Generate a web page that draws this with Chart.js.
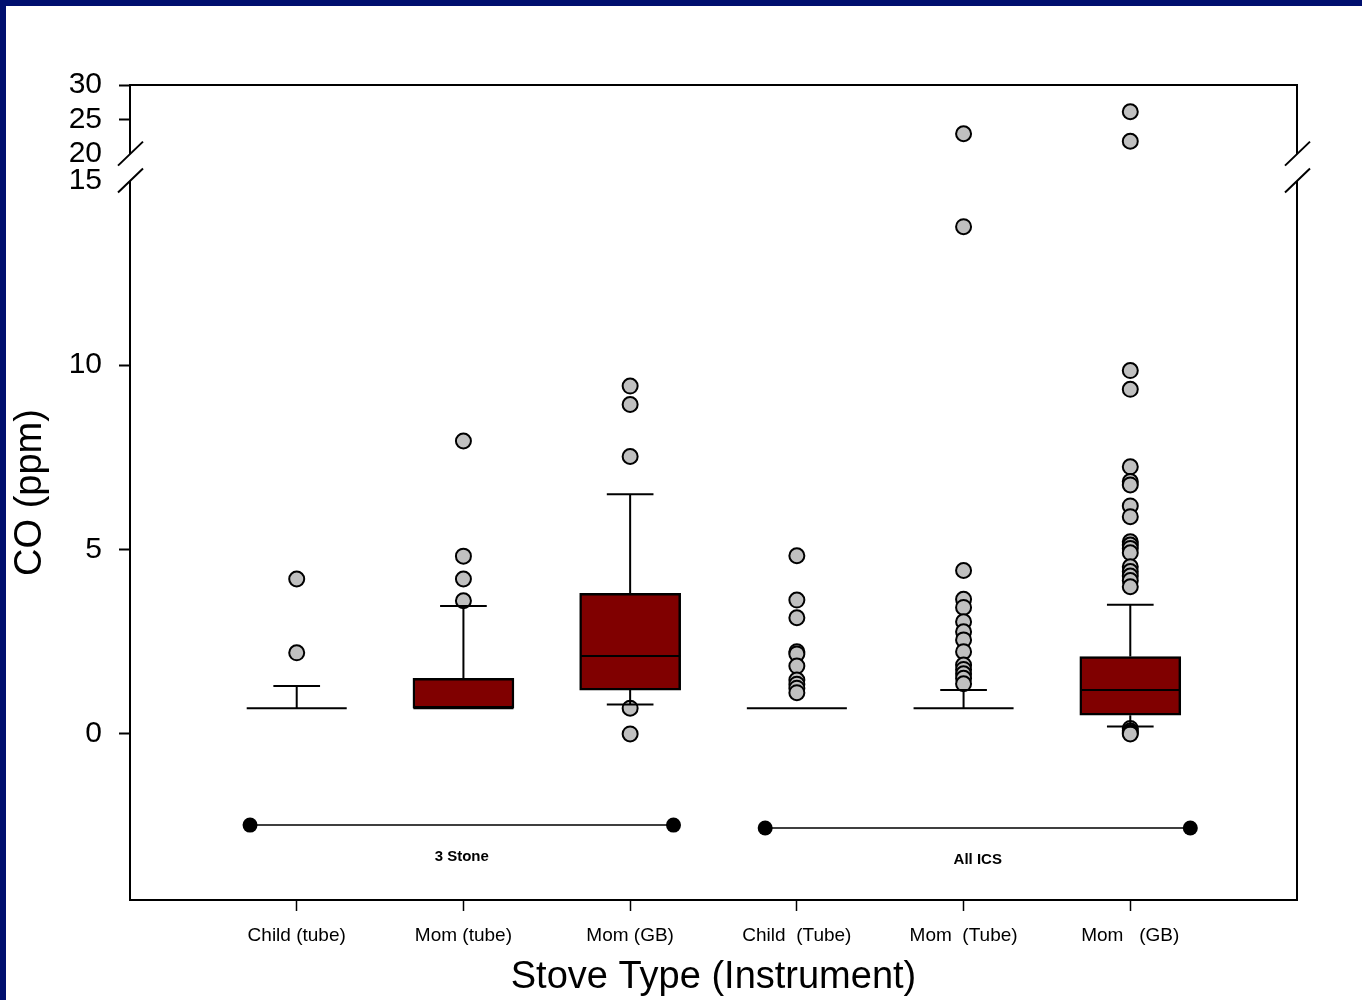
<!DOCTYPE html>
<html>
<head>
<meta charset="utf-8">
<title>CO by stove type</title>
<script src="https://cdn.jsdelivr.net/npm/chart.js@4.4.1/dist/chart.umd.min.js"></script>
<style>
  html, body { margin: 0; padding: 0; background: #fff; }
  #box { position: relative; width: 1362px; height: 1000px; }
</style>
</head>
<body>
<div id="box"><canvas id="coChart" width="1362" height="1000"></canvas></div>
<script>
// x categories
const categories = ['Child (tube)', 'Mom (tube)', 'Mom (GB)', 'Child  (Tube)', 'Mom  (Tube)', 'Mom   (GB)'];

// box plot summary per category, CO in ppm
const whiskerLow  = [0.7, 0.7, 0.8, 0.7, 0.7, 0.2];
const q1          = [0.7, 0.7, 1.19, 0.7, 0.7, 0.51];
const median      = [0.7, 0.7, 2.11, 0.7, 0.7, 1.19];
const q3          = [0.7, 1.51, 3.81, 0.7, 0.7, 2.1];
const whiskerHigh = [1.3, 3.47, 6.5, 0.7, 1.19, 3.5];

// outliers per category
const outChildTube3 = [4.2, 2.2];
const outMomTube3   = [7.94, 4.82, 4.2, 3.61];
const outMomGB3     = [9.43, 8.93, 7.52, 0.7, 0.0];
const outChildIcs   = [4.83, 3.63, 3.15, 2.23, 2.17, 1.84, 1.46, 1.35, 1.24, 1.12];
const outMomTubeIcs = [22.9, 13.75, 4.43, 3.65, 3.43, 3.04, 2.77, 2.55, 2.23, 1.87, 1.75, 1.63, 1.51, 1.36];
const outMomGBIcs   = [26.1, 21.8, 9.85, 9.34, 7.24, 6.84, 6.75, 6.18, 5.89, 5.21, 5.12, 5.03, 4.91,
                       4.53, 4.4, 4.28, 4.16, 3.99, 0.15, 0.08, 0.03, 0.0];
const outliers = [outChildTube3, outMomTube3, outMomGB3, outChildIcs, outMomTubeIcs, outMomGBIcs];

// stove groups under the boxes
const groupNames = ['3 Stone', 'All ICS'];
const groupStart = [0.72, 3.81];
const groupEnd   = [3.26, 6.36];
const groupLineY = [-2.47, -2.55];

// y axis ticks
const yTickValues = [0, 5, 10, 15, 20, 25, 30];
const breakLabels = [15, 20];

// broken axis: 15..20 is cut out, the part above 20 is squeezed
const BREAK_LOW = 15, BREAK_HIGH = 20;
const BREAK_GAP = 0.729;
const UPPER_SCALE = 0.186;
function toAxis(v) {
  if (v <= BREAK_LOW) return v;
  if (v >= BREAK_HIGH) return BREAK_LOW + BREAK_GAP + (v - BREAK_HIGH) * UPPER_SCALE;
  return BREAK_LOW + (v - BREAK_LOW) / (BREAK_HIGH - BREAK_LOW) * BREAK_GAP;
}

const NAVY = '#000f6f';
const FONT = '"Liberation Sans", Arial, sans-serif';
const BOX_HALF = 0.3;   // half box width, x units
const CAP_HALF = 0.14;  // half whisker cap width

// whiskers, caps and medians as one broken line
const whiskerPts = [];
categories.forEach((_, i) => {
  const x = i + 1;
  const seg = (x1, y1, x2, y2) => {
    whiskerPts.push({ x: x1, y: toAxis(y1) }, { x: x2, y: toAxis(y2) }, { x: x2, y: null });
  };
  seg(x, q3[i], x, whiskerHigh[i]);
  seg(x, q1[i], x, whiskerLow[i]);
  seg(x - CAP_HALF, whiskerHigh[i], x + CAP_HALF, whiskerHigh[i]);
  seg(x - CAP_HALF, whiskerLow[i], x + CAP_HALF, whiskerLow[i]);
  seg(x - BOX_HALF, median[i], x + BOX_HALF, median[i]);
});

const outlierPts = [];
outliers.forEach((list, i) => list.forEach(v => outlierPts.push({ x: i + 1, y: toAxis(v) })));

const groupPts = [];
groupNames.forEach((_, i) => {
  groupPts.push({ x: groupStart[i], y: groupLineY[i] }, { x: groupEnd[i], y: groupLineY[i] },
                { x: groupEnd[i] + 0.05, y: null });
});

const framePlugin = {
  id: 'frame',
  beforeDraw(chart) {
    const c = chart.ctx;
    c.save();
    c.fillStyle = '#fff';
    c.fillRect(0, 0, chart.width, chart.height);
    c.fillStyle = NAVY;
    c.fillRect(0, 0, chart.width, 6);
    c.fillRect(0, 0, 6, chart.height);
    c.restore();
  },
  afterDraw(chart) {
    const c = chart.ctx, a = chart.chartArea, ys = chart.scales.y, xs = chart.scales.x;
    const yLow = ys.getPixelForValue(toAxis(BREAK_LOW));
    const yHigh = ys.getPixelForValue(toAxis(BREAK_HIGH));
    c.save();
    c.strokeStyle = '#000';
    c.lineWidth = 2;
    c.beginPath();
    c.moveTo(a.left - 1, a.top); c.lineTo(a.right + 1, a.top);
    c.moveTo(a.left - 1, a.bottom); c.lineTo(a.right + 1, a.bottom);
    [a.left, a.right].forEach(x => {
      c.moveTo(x, a.top); c.lineTo(x, yHigh);
      c.moveTo(x, yLow); c.lineTo(x, a.bottom);
      c.moveTo(x - 12, yHigh + 12); c.lineTo(x + 13, yHigh - 12);
      c.moveTo(x - 12, yLow + 12); c.lineTo(x + 13, yLow - 12);
    });
    c.stroke();

    c.fillStyle = '#000';
    c.font = 'bold 15px ' + FONT;
    c.textAlign = 'center';
    c.textBaseline = 'middle';
    groupNames.forEach((name, i) => {
      const gx = xs.getPixelForValue((groupStart[i] + groupEnd[i]) / 2);
      const gy = ys.getPixelForValue(groupLineY[i]) + 32;
      c.fillText(name, gx, gy);
    });
    c.restore();
  }
};

Chart.defaults.font.family = FONT;
Chart.defaults.color = '#000';

new Chart(document.getElementById('coChart'), {
  type: 'bar',
  data: {
    datasets: [
      {
        type: 'line',
        data: groupPts,
        borderColor: '#000',
        borderWidth: 1.5,
        pointRadius: 7.5,
        pointBackgroundColor: '#000',
        pointBorderColor: '#000',
        pointBorderWidth: 0,
        spanGaps: false,
        order: 0
      },
      {
        type: 'line',
        data: whiskerPts,
        borderColor: '#000',
        borderWidth: 2,
        pointRadius: 0,
        spanGaps: false,
        order: 1
      },
      {
        type: 'bar',
        data: categories.map((_, i) => ({ x: i + 1, y: [toAxis(q1[i]), toAxis(q3[i])] })),
        backgroundColor: '#800000',
        borderColor: '#000',
        borderWidth: 2.5,
        borderSkipped: false,
        barThickness: 101,
        order: 2
      },
      {
        type: 'scatter',
        data: outlierPts,
        pointRadius: 7.5,
        pointBorderWidth: 2,
        pointBackgroundColor: '#c0c0c0',
        pointBorderColor: '#000',
        order: 3
      }
    ]
  },
  options: {
    responsive: false,
    animation: false,
    events: [],
    layout: { padding: { top: 85, right: 65, left: 0, bottom: 0 } },
    plugins: {
      legend: { display: false },
      tooltip: { enabled: false }
    },
    scales: {
      x: {
        type: 'linear',
        min: 0,
        max: 7,
        offset: false,
        afterBuildTicks: s => { s.ticks = categories.map((_, i) => ({ value: i + 1 })); },
        afterFit: s => { s.height = 100; },
        ticks: {
          autoSkip: false,
          maxRotation: 0,
          padding: 13,
          font: { size: 19 },
          callback: (v, i) => categories[i]
        },
        grid: { offset: false, drawOnChartArea: false, tickLength: 11, tickWidth: 1.5, tickColor: '#000' },
        border: { display: false },
        title: {
          display: true,
          text: 'Stove Type (Instrument)',
          font: { size: 38 },
          padding: { top: 0, bottom: 0 }
        }
      },
      y: {
        min: -4.5,
        max: toAxis(30),
        afterBuildTicks: s => { s.ticks = yTickValues.map(v => ({ value: toAxis(v) })); },
        afterFit: s => { s.width = 130; },
        ticks: {
          autoSkip: false,
          padding: 17,
          font: { size: 30 },
          callback: (v, i) => String(yTickValues[i])
        },
        grid: {
          drawOnChartArea: false,
          tickLength: 11,
          tickWidth: 2,
          tickColor: c => breakLabels.includes(yTickValues[c.index]) ? 'rgba(0,0,0,0)' : '#000'
        },
        border: { display: false },
        title: {
          display: true,
          text: 'CO (ppm)',
          font: { size: 38 },
          padding: { top: 8, bottom: 0 }
        }
      }
    }
  },
  plugins: [framePlugin]
});
</script>
</body>
</html>
